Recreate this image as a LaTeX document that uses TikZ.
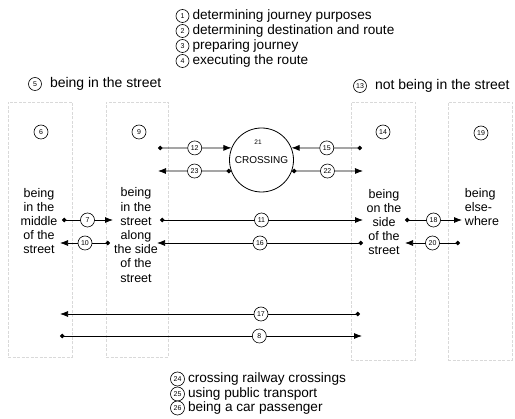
\documentclass[tikz,border=0pt]{standalone}
\usepackage{fontspec}
\setmainfont{Liberation Sans}
\usetikzlibrary{arrows.meta, positioning}

\begin{document}
\begin{tikzpicture}[x=1pt, y=-1pt,
  lane/.style={draw=black!15, dash pattern=on 3pt off 1.5pt, line width=0.8pt, minimum width=64pt, inner sep=0pt},
  num/.style={circle, draw, fill=white, inner sep=0pt, minimum size=14pt, line width=0.6pt, font=\fontsize{7}{7}\selectfont},
  item/.style={inner sep=0pt, font=\fontsize{13.6}{15}\selectfont},
  head/.style={inner sep=0pt, font=\fontsize{14}{16}\selectfont},
  block/.style={inner sep=0pt, align=center, font=\fontsize{12.5}{14.2}\selectfont},
  tail/.tip={Circle[length=4.5pt]},
  head tip/.tip={Latex[length=8pt, width=6pt]},
  flow/.style={draw, line width=0.75pt, tail-head tip}]

   \useasboundingbox (0,0) rectangle (515,419);

   % lanes
   \node[lane, minimum height=255pt] (mid) at (40,229.5) {};
   \node[lane, minimum width=62pt, minimum height=255pt] (side) at (137,229.5) {};
   \node[lane, minimum height=258pt] (walk) at (383,231) {};
   \node[lane, minimum height=258pt] (else) at (480,231) {};

   \node[num] (n6)  at (41,132)  {6};
   \node[num] (n9)  at (139,132) {9};
   \node[num] (n14) at (383,132) {14};
   \node[num] (n19) at (481,133) {19};

   % purposes
   \node[num, minimum size=13pt] (c1) at (182.5,16) {1};
   \node[item, right=3pt of c1] (t1) {determining journey purposes};
   \node[num, minimum size=13pt] (c2) at (182.5,31) {2};
   \node[item, right=3pt of c2] (t2) {determining destination and route};
   \node[num, minimum size=13pt] (c3) at (182.5,46) {3};
   \node[item, right=3pt of c3] (t3) {preparing journey};
   \node[num, minimum size=13pt] (c4) at (182.5,61) {4};
   \node[item, right=3pt of c4] (t4) {executing the route};

   \node[num, minimum size=13pt] (c5) at (35,84) {5};
   \node[head, right=8pt of c5] (t5) {being in the street};
   \node[num, minimum size=13pt] (c13) at (360,86) {13};
   \node[head, right=8pt of c13] (t13) {not being in the street};

   % states
   \node[block] (tmid)  at (39,221)  {being\\in the\\middle\\of the\\street};
   \node[block] (tside) at (136,235) {being\\in the\\street\\along\\the side\\of the\\street};
   \node[block] (twalk) at (384,222) {being\\on the\\side\\of the\\street};
   \node[block, align=left] (telse) at (482,207) {being\\else-\\where};

   \node[circle, draw, line width=0.8pt, minimum size=64pt, inner sep=0pt,
         font=\fontsize{10}{10}\selectfont] (cross) at (261.5,160) {CROSSING};
   \node[inner sep=0pt, font=\fontsize{6.5}{7}\selectfont] (n21) at (258,142) {21};

   % end points
   \coordinate (a12) at (158,148);
   \coordinate (a23) at (158,171);
   \coordinate (a15) at (362,148);
   \coordinate (a22) at (363,171);
   \coordinate (a7)  at (62,220);
   \coordinate (b7)  at (113,220);
   \coordinate (a10) at (110,243);
   \coordinate (b10) at (60,243);
   \coordinate (a11) at (160,220);
   \coordinate (b11) at (363,220);
   \coordinate (a16) at (363,243);
   \coordinate (b16) at (157,243);
   \coordinate (a18) at (405,220);
   \coordinate (b18) at (462,220);
   \coordinate (a20) at (460,243);
   \coordinate (b20) at (405,243);
   \coordinate (a17) at (360,314);
   \coordinate (b17) at (60,314);
   \coordinate (a8)  at (60,336);
   \coordinate (b8)  at (362,336);

   \draw[flow] (a12) -- node[num] {12} (cross.158);
   \draw[flow] (cross.200) -- node[num] {23} (a23);
   \draw[flow] (a15) -- node[num] {15} (cross.22);
   \draw[flow] (cross.-20) -- node[num] {22} (a22);
   \draw[flow] (a7) -- node[num] {7} (b7);
   \draw[flow] (a10) -- node[num] {10} (b10);
   \draw[flow] (a11) -- node[num] {11} (b11);
   \draw[flow] (a16) -- node[num] {16} (b16);
   \draw[flow] (a18) -- node[num] {18} (b18);
   \draw[flow] (a20) -- node[num] {20} (b20);
   \draw[flow] (a17) -- node[num, pos=.33] {17} (b17);
   \draw[flow] (a8) -- node[num, pos=.66] {8} (b8);

   % other behaviour
   \node[num] (c24) at (177.5,379) {24};
   \node[item, right=3pt of c24] (t24) {crossing railway crossings};
   \node[num] (c25) at (177.5,394) {25};
   \node[item, right=3pt of c25] (t25) {using public transport};
   \node[num] (c26) at (177.5,408) {26};
   \node[item, right=3pt of c26] (t26) {being a car passenger};

\end{tikzpicture}
\end{document}
